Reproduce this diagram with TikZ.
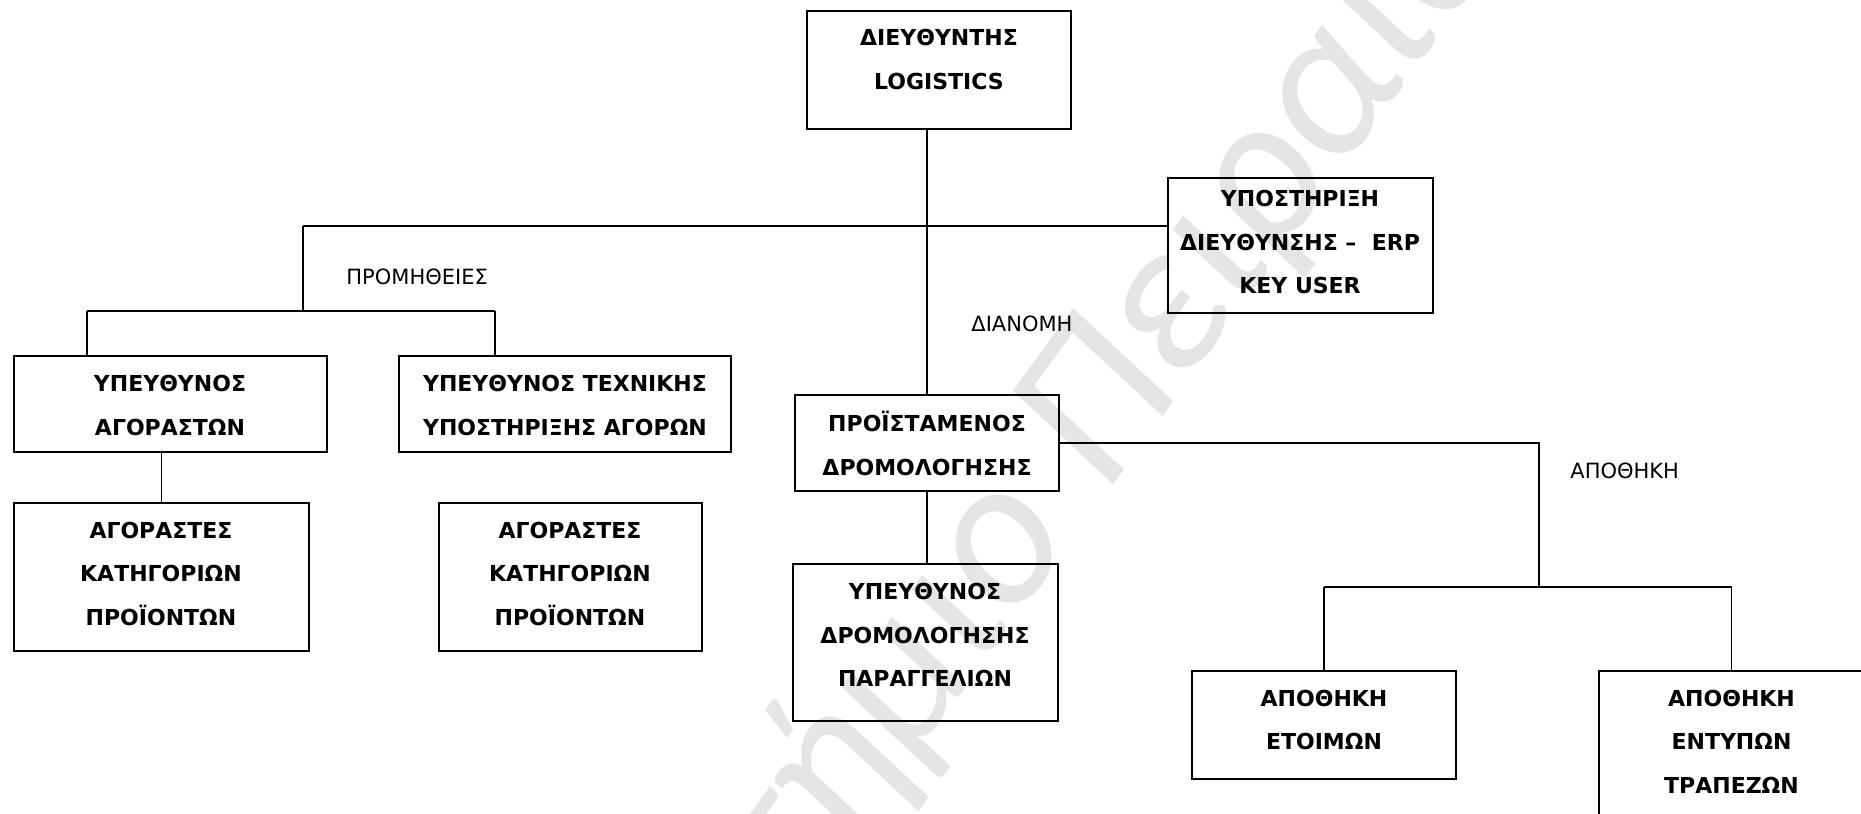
\documentclass[tikz,border=0pt]{standalone}
\usepackage{fontspec}
\setmainfont{DejaVu Sans}
\newfontfamily\wmfont{Carlito}
\usetikzlibrary{fit}
\begin{document}
\begin{tikzpicture}[x=0.5pt,y=-0.5pt,
  box/.style={draw,line width=1pt,inner sep=0pt},
  btxt/.style={font=\fontsize{11}{21.75}\selectfont\bfseries, align=center, inner sep=0pt, text depth=0pt},
  lbl/.style={font=\fontsize{10.5}{12}\selectfont, anchor=west, inner sep=0pt},
  conn/.style={line width=0.9pt},
  wm/.style={font=\wmfont\itshape\fontsize{106}{106}\selectfont, text=black!10, inner sep=0pt, rotate=54}]
\useasboundingbox (0,0) rectangle (1861,813);
\clip (0,0) rectangle (1861,813);
% watermark
\node[wm, anchor=base east] (wm1) at (1078,534) {Πανεπιστήμιο};
\node[wm, anchor=base west] (wm2) at (1106,495) {Πειραιώς};
% boxes
\node[box, fit={(807,11) (1071,129)}] (dir) {};
\node[btxt] (dirT) at (939,59.5) {ΔΙΕΥΘΥΝΤΗΣ\\LOGISTICS};
\node[box, fit={(1168,178) (1433,313)}] (sup) {};
\node[btxt] (supT) at (1300,242) {ΥΠΟΣΤΗΡΙΞΗ\\ΔΙΕΥΘΥΝΣΗΣ –\ \ ERP\\KEY USER};
\node[box, fit={(14,356) (327,452)}] (A1) {};
\node[btxt] (A1T) at (170,405.5) {ΥΠΕΥΘΥΝΟΣ\\ΑΓΟΡΑΣΤΩΝ};
\node[box, fit={(399,356) (731,452)}] (A2) {};
\node[btxt] (A2T) at (565,405.5) {ΥΠΕΥΘΥΝΟΣ ΤΕΧΝΙΚΗΣ\\ΥΠΟΣΤΗΡΙΞΗΣ ΑΓΟΡΩΝ};
\node[box, fit={(14,503) (309,651)}] (B1) {};
\node[btxt] (B1T) at (161,573.5) {ΑΓΟΡΑΣΤΕΣ\\ΚΑΤΗΓΟΡΙΩΝ\\ΠΡΟΪΟΝΤΩΝ};
\node[box, fit={(439,503) (702,651)}] (B2) {};
\node[btxt] (B2T) at (570,573.5) {ΑΓΟΡΑΣΤΕΣ\\ΚΑΤΗΓΟΡΙΩΝ\\ΠΡΟΪΟΝΤΩΝ};
\node[box, fit={(795,395) (1059,491)}] (P) {};
\node[btxt] (PT) at (927,443.5) {ΠΡΟΪΣΤΑΜΕΝΟΣ\\ΔΡΟΜΟΛΟΓΗΣΗΣ};
\node[box, fit={(792.5,564) (1058,721)}] (R) {};
\node[btxt] (RT) at (925,635) {ΥΠΕΥΘΥΝΟΣ\\ΔΡΟΜΟΛΟΓΗΣΗΣ\\ΠΑΡΑΓΓΕΛΙΩΝ};
\node[box, fit={(1192,671) (1456,779)}] (W1) {};
\node[btxt] (W1T) at (1324,720) {ΑΠΟΘΗΚΗ\\ΕΤΟΙΜΩΝ};
\node[box, fit={(1599,671) (1864,819)}] (W2) {};
\node[btxt] (W2T) at (1731.5,741.5) {ΑΠΟΘΗΚΗ\\ΕΝΤΥΠΩΝ\\ΤΡΑΠΕΖΩΝ};
% labels
\node[lbl] (lprom) at (346,277) {ΠΡΟΜΗΘΕΙΕΣ};
\node[lbl] (ldian) at (971,324) {ΔΙΑΝΟΜΗ};
\node[lbl] (lapo) at (1570,471) {ΑΠΟΘΗΚΗ};
% connector coordinates
\coordinate (hL) at (303,226);
\coordinate (h2) at (303,311);
\coordinate (h2L) at (87,311);
\coordinate (h2R) at (495,311);
\coordinate (wJ) at (1539,587);
% connectors
\draw[conn] (P.north) -- (P.north |- dir.south);
\draw[conn] (hL) -- (hL -| sup.west);
\draw[conn] (hL) -- (h2);
\draw[conn] (h2L) -- (h2R);
\draw[conn] (h2L) -- (h2L |- A1.north);
\draw[conn] (h2R) -- (h2R |- A2.north);
\draw[conn] (B1.north) -- (B1.north |- A1.south);
\draw[conn] (P.east) -| (wJ);
\draw[conn] (W1.north |- wJ) -- (W2.north |- wJ);
\draw[conn] (W1.north) -- (W1.north |- wJ);
\draw[conn] (W2.north) -- (W2.north |- wJ);
\draw[conn] (P.south) -- (P.south |- R.north);
\end{tikzpicture}
\end{document}
